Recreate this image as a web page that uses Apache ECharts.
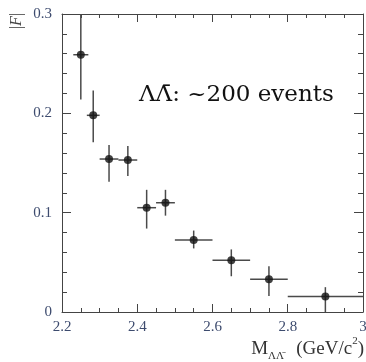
<!DOCTYPE html>
<html>
<head>
<meta charset="utf-8">
<script src="https://cdn.jsdelivr.net/npm/echarts@6/dist/echarts.min.js"></script>
<style>
  html, body { margin: 0; padding: 0; background: #fff; }
  #chart { width: 366px; height: 362px; }
</style>
</head>
<body>
<div id="chart"></div>
<script>
// invariant mass bins (GeV/c^2)
const mass = [2.25, 2.283, 2.325, 2.375, 2.425, 2.475, 2.55, 2.65, 2.75, 2.9];
const massLow = [2.23, 2.266, 2.30, 2.35, 2.40, 2.45, 2.50, 2.60, 2.70, 2.80];
const massHigh = [2.27, 2.30, 2.35, 2.40, 2.45, 2.50, 2.60, 2.70, 2.80, 3.00];
// effective form factor |F| with error range
const formFactor = [0.259, 0.198, 0.154, 0.153, 0.105, 0.110, 0.0725, 0.052, 0.033, 0.0155];
const formLow = [0.214, 0.171, 0.131, 0.137, 0.084, 0.097, 0.064, 0.036, 0.016, 0.0];
const formHigh = [0.32, 0.223, 0.168, 0.167, 0.123, 0.123, 0.082, 0.063, 0.046, 0.025];

const errData = mass.map((m, i) => [m, formFactor[i], massLow[i], massHigh[i], formLow[i], formHigh[i]]);
const pointData = mass.map((m, i) => [m, formFactor[i]]);

const chart = echarts.init(document.getElementById("chart"));

const tickColor = "#3d4b6e";
const axisColor = "#444";
const serif = "'Liberation Serif', 'DejaVu Serif', serif";

function xAxisCfg(pos) {
    return {
        type: "value",
        position: pos,
        min: 2.2,
        max: 3.0,
        interval: 0.2,
        axisLine: {show: true, onZero: false, lineStyle: {color: axisColor, width: 1}},
        axisTick: {show: true, inside: true, length: 8, lineStyle: {color: axisColor}},
        minorTick: {show: true, splitNumber: 4, length: 4, lineStyle: {color: axisColor}},
        splitLine: {show: false},
        axisLabel: {
            show: pos === "bottom",
            margin: 8,
            color: tickColor,
            fontFamily: serif,
            fontSize: 15,
            formatter: v => String(+v.toFixed(1))
        }
    };
}

function yAxisCfg(pos) {
    return {
        type: "value",
        position: pos,
        min: 0,
        max: 0.3,
        interval: 0.1,
        axisLine: {show: true, onZero: false, lineStyle: {color: axisColor, width: 1}},
        axisTick: {show: true, inside: true, length: 9, lineStyle: {color: axisColor}},
        minorTick: {show: true, splitNumber: 5, length: 5, lineStyle: {color: axisColor}},
        splitLine: {show: false},
        axisLabel: {
            show: pos === "left",
            margin: 10,
            color: tickColor,
            fontFamily: serif,
            fontSize: 15,
            formatter: v => String(+v.toFixed(1))
        }
    };
}

const nameRich = {
    m: {fontFamily: serif, fontSize: 19, fill: "#333", lineHeight: 26, verticalAlign: "middle"},
    s: {fontFamily: serif, fontSize: 11, fill: "#333", lineHeight: 26, verticalAlign: "bottom"},
    p: {fontFamily: serif, fontSize: 11, fill: "#333", lineHeight: 26, verticalAlign: "top"}
};

chart.setOption({
    backgroundColor: "#fff",
    animation: false,
    grid: {left: 62, right: 3, top: 14, bottom: 50, containLabel: false, outerBoundsMode: "none"},
    xAxis: [xAxisCfg("bottom"), xAxisCfg("top")],
    yAxis: [yAxisCfg("left"), yAxisCfg("right")],
    graphic: [
        {
            type: "text",
            x: 17,
            y: 21,
            rotation: Math.PI / 2,
            style: {
                text: "{a||}{b|F}{a||}",
                align: "center",
                verticalAlign: "middle",
                fill: "#444",
                rich: {
                    a: {fontFamily: serif, fontSize: 16, fill: "#444"},
                    b: {fontFamily: serif, fontSize: 16, fontStyle: "italic", fill: "#444"}
                }
            }
        },
        {
            type: "text",
            x: 139,
            y: 95,
            style: {
                text: "\u039B\u039B\u0304: ~200 events",
                fontFamily: "'DejaVu Serif', serif",
                fontSize: 23,
                fill: "#111",
                verticalAlign: "middle"
            }
        },
        {
            type: "text",
            x: 284,
            y: 349,
            style: {
                text: "{m|M}{s|\u039B\u039B\u0304}",
                align: "right",
                verticalAlign: "middle",
                rich: nameRich
            }
        },
        {
            type: "text",
            x: 364,
            y: 349,
            style: {
                text: "{m|(GeV/c}{p|2}{m|)}",
                align: "right",
                verticalAlign: "middle",
                rich: nameRich
            }
        }
    ],
    series: [
        {
            type: "custom",
            clip: true,
            data: errData,
            encode: {x: 0, y: 1},
            renderItem: function (params, api) {
                const x = api.value(0);
                const y = api.value(1);
                const h1 = api.coord([api.value(2), y]);
                const h2 = api.coord([api.value(3), y]);
                const v1 = api.coord([x, api.value(4)]);
                const v2 = api.coord([x, api.value(5)]);
                const st = {stroke: "#4a4a4a", lineWidth: 1.5};
                return {
                    type: "group",
                    children: [
                        {type: "line", shape: {x1: h1[0], y1: h1[1], x2: h2[0], y2: h2[1]}, style: st},
                        {type: "line", shape: {x1: v1[0], y1: v1[1], x2: v2[0], y2: v2[1]}, style: st}
                    ]
                };
            },
            z: 2
        },
        {
            type: "scatter",
            data: pointData,
            symbol: "circle",
            symbolSize: 8,
            itemStyle: {color: "#111"},
            z: 3
        }
    ]
});
</script>
</body>
</html>
